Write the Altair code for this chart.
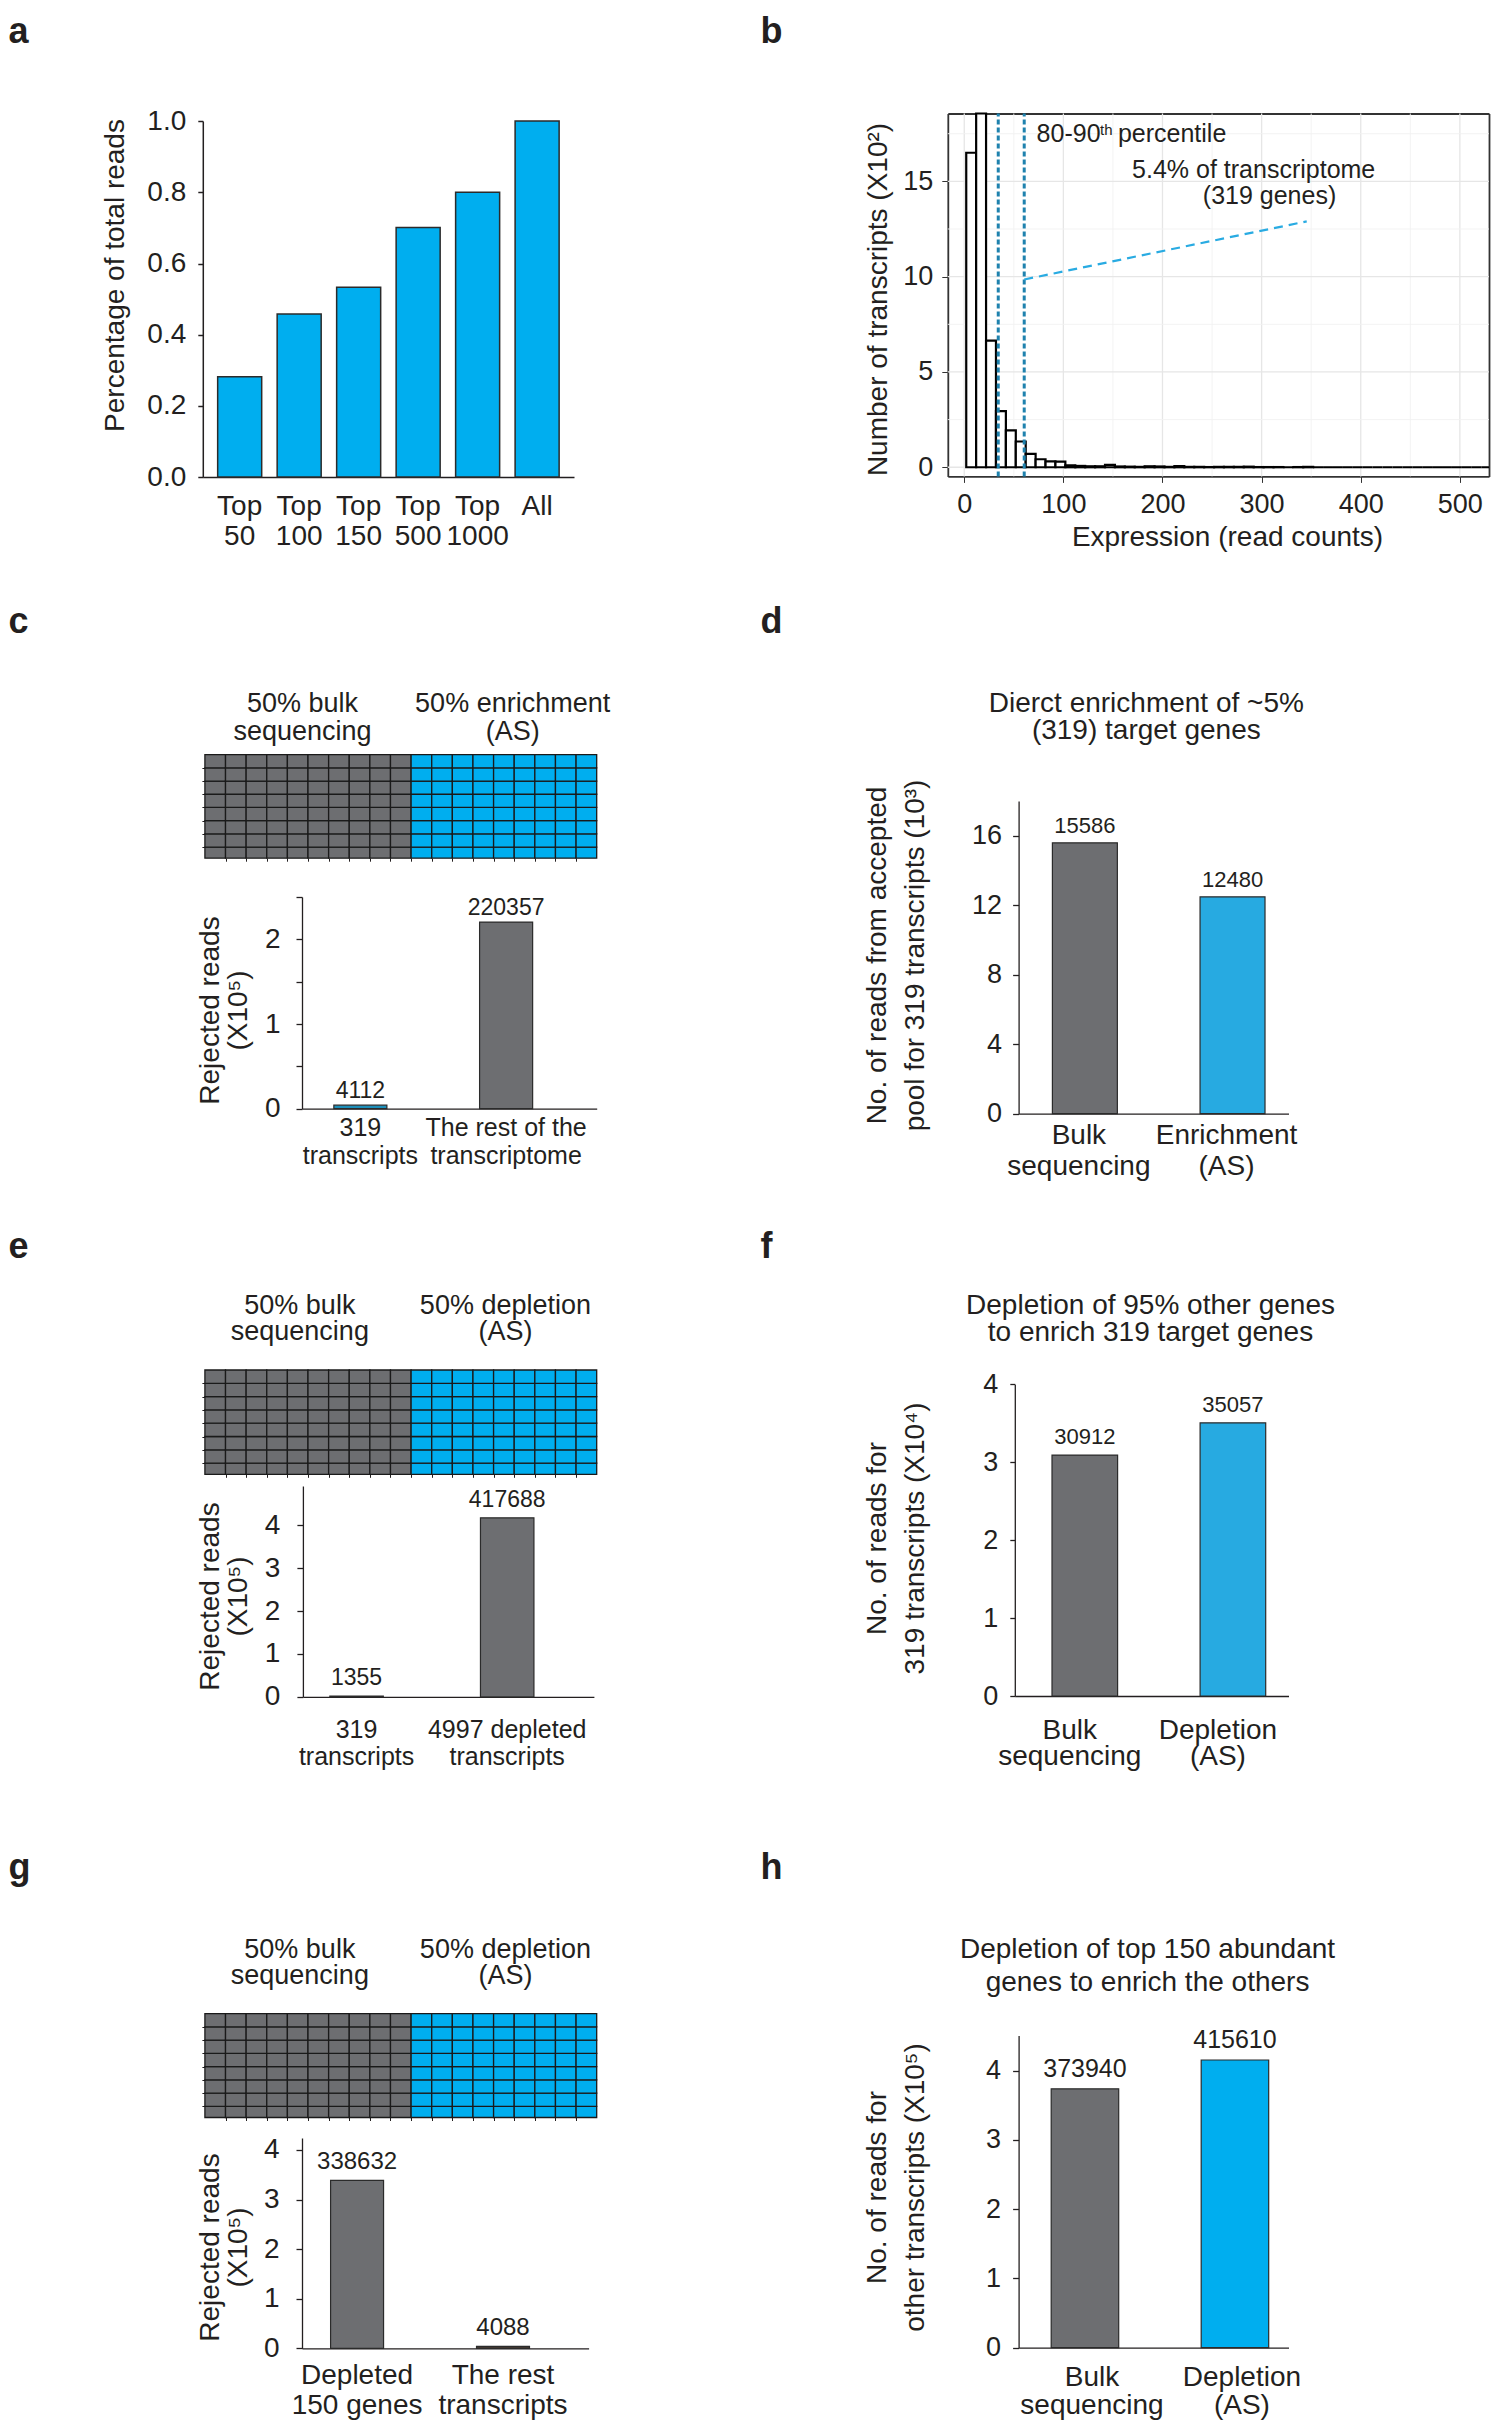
import altair as alt
import pandas as pd

W, H, M = 1484, 2416, 8
FONT = "Liberation Sans"
INK = "#231F20"
FRAME = "#333333"
GRAY = "#6D6E71"
BLUE = "#00AEEF"
BLUE_D = "#27AAE1"
TEAL = "#1B8FBA"
BROWN = "#4A3C33"
EDGE = "#2B2B2B"
CELL_EDGE = "#1A1A1A"
PCT_LINE = "#1F82AE"
POINTER = "#29ABE2"

# ---------------- data ----------------
a_groups = ["Top 50", "Top 100", "Top 150", "Top 500", "Top 1000", "All"]
a_share = [0.282, 0.458, 0.533, 0.701, 0.800, 1.000]

# histogram of expression (x10^2 transcripts per bin of 10 read counts)
b_counts = [16.5, 30.0, 6.64, 2.94, 1.93, 1.35, 0.70, 0.42, 0.31, 0.30,
            0.10, 0.07, 0.05, 0.05, 0.12, 0.04, 0.03, 0.02, 0.05, 0.04,
            0.02, 0.06, 0.02, 0.02, 0.01, 0.02, 0.02, 0.02, 0.03, 0.01,
            0.01, 0.01, 0.0, 0.01, 0.02, 0.0, 0.0, 0.0, 0.0, 0.0,
            0.0, 0.0, 0.0, 0.0, 0.0, 0.0, 0.0, 0.0, 0.0, 0.0,
            0.0, 0.0, 0.0]
b_first_bin = 2
b_bin_width = 10
b_percentiles = [34.3, 60.5]
b_pointer = {"x": [60.5], "y": [9.85], "x2": [345.5], "y2": [12.9]}
b_notes_left = ["80-90", "th", "percentile"]
b_notes_left_x = [73, 137, 155]
b_notes_left_y = [17.08, 17.45, 17.08]
b_notes_left_fs = [25, 15, 25]
b_notes_center = ["5.4% of transcriptome", "(319 genes)"]
b_notes_center_x = [292, 308]
b_notes_center_y = [15.18, 13.83]

waffle_cols = [10, 9]
waffle_rows = 8
waffle_colors = [GRAY, BLUE]

c_titles = [["50% bulk", "sequencing"], ["50% enrichment", "(AS)"]]
c_cats = ["319|transcripts", "The rest of the|transcriptome"]
c_reads = [4112, 220357]

d_title = ["Dierct enrichment of ~5%", "(319) target genes"]
d_cats = ["Bulk|sequencing", "Enrichment|(AS)"]
d_reads = [15586, 12480]

e_titles = [["50% bulk", "sequencing"], ["50% depletion", "(AS)"]]
e_cats = ["319|transcripts", "4997 depleted|transcripts"]
e_reads = [1355, 417688]

f_title = ["Depletion of 95% other genes", "to enrich 319 target genes"]
f_cats = ["Bulk|sequencing", "Depletion|(AS)"]
f_reads = [30912, 35057]

g_titles = [["50% bulk", "sequencing"], ["50% depletion", "(AS)"]]
g_cats = ["Depleted|150 genes", "The rest|transcripts"]
g_reads = [338632, 4088]

h_title = ["Depletion of top 150 abundant", "genes to enrich the others"]
h_cats = ["Bulk|sequencing", "Depletion|(AS)"]
h_reads = [373940, 415610]


# ---------------- helpers ----------------
def P(v):
    return v - M


def ax(**kw):
    base = dict(labelFont=FONT, titleFont=FONT, labelColor=INK, titleColor=INK,
                domainColor=INK, tickColor=INK, titleFontWeight="normal",
                labelFlush=False, labelOverlap=False, labelLimit=0, grid=False,
                titleLimit=2000)
    base.update(kw)
    return alt.Axis(**base)


def left_axis(x_page, **kw):
    return ax(orient="left", offset=-(x_page - M), **kw)


def bottom_axis(y_page, **kw):
    return ax(orient="bottom", offset=(y_page - M) - H, **kw)


def top_axis(y_page, **kw):
    return ax(orient="top", offset=-(y_page - M), **kw)


def right_axis(x_page, **kw):
    return ax(orient="right", offset=(x_page - M) - W, **kw)


def host(df, field, scale, title, x_page, y_page, size, bold=False, align="center", lh=None):
    kw = dict(domain=False, ticks=False, tickSize=0, labels=False, title=title,
              titleX=P(x_page), titleY=P(y_page), titleFontSize=size,
              titleFontWeight="bold" if bold else "normal", titleAlign=align,
              titleBaseline="alphabetic", titleAngle=0)
    if lh:
        kw["titleLineHeight"] = lh
    return alt.Chart(df).mark_text(opacity=0).encode(
        x=alt.X(field, scale=scale, axis=top_axis(M, **kw)))


def js_lines(lines):
    return "[" + ", ".join("'" + s + "'" for s in lines) + "]"


LETTER_FS = 36
LETTER_TOP_ROW = 42

# ---------------- panel a ----------------
a_df = pd.DataFrame({"group": a_groups, "share": a_share, "base": 0.0})
a_xs = alt.Scale(domain=a_groups, range=[P(202.8), P(574)], paddingInner=0.26, paddingOuter=0.25)
a_ys = alt.Scale(domain=[0, 1], range=[P(477.1), P(121.1)], nice=False, zero=False)
a_bars = alt.Chart(a_df).mark_bar(fill=BLUE, stroke=EDGE, strokeWidth=1.5).encode(
    x=alt.X("group:N", scale=a_xs,
            axis=bottom_axis(477.1, ticks=False, tickSize=0, labelPadding=15, labelFontSize=28,
                             labelLineHeight=30, labelAngle=0, labelExpr="split(datum.label, ' ')",
                             domainWidth=1.5, title=None)),
    y=alt.Y("share:Q", scale=a_ys,
            axis=left_axis(202.8, values=[0, 0.2, 0.4, 0.6, 0.8, 1.0], format=".1f", tickSize=5,
                           tickWidth=1.5, domainWidth=1.5, labelPadding=12, labelFontSize=28,
                           title="Percentage of total reads", titleFontSize=28, titleAngle=270,
                           titleAlign="center", titleBaseline="alphabetic",
                           titleX=123 - 202.8, titleY=P(275))),
    y2="base",
)
panel_a = alt.layer(
    a_bars, host(a_df, "group:N", a_xs, "a", M, LETTER_TOP_ROW, LETTER_FS, bold=True, align="left")
).resolve_axis(x="independent", y="independent")

# ---------------- panel b ----------------
b_xlo, b_xhi = -16.6, 529.4
b_ylo, b_yhi = -0.48, 18.56
b_lo = [b_first_bin + b_bin_width * i for i in range(len(b_counts))]
b_df = pd.DataFrame({"lo": b_lo, "hi": [v + b_bin_width for v in b_lo], "n": b_counts, "zero": 0.0})
b_xs = alt.Scale(domain=[b_xlo, b_xhi], range=[P(947.8), P(1489)], nice=False, zero=False, clamp=True)
b_ys = alt.Scale(domain=[b_ylo, b_yhi], range=[P(476.4), P(113.5)], nice=False, zero=False, clamp=True)

vg = [0, 50, 100, 150, 200, 250, 300, 350, 400, 450, 500]
hg = [0, 2.5, 5, 7.5, 10, 12.5, 15, 17.5]
b_vgrid = pd.DataFrame({"g": vg, "y0": b_ylo, "y1": b_yhi,
                        "c": ["#E6E6E6" if v % 100 == 0 else "#F2F2F2" for v in vg],
                        "w": [1.3 if v % 100 == 0 else 0.9 for v in vg]})
b_hgrid = pd.DataFrame({"g": hg, "x0": b_xlo, "x1": b_xhi,
                        "c": ["#E6E6E6" if v % 5 == 0 else "#F2F2F2" for v in hg],
                        "w": [1.3 if v % 5 == 0 else 0.9 for v in hg]})
frame_kw = dict(ticks=False, tickSize=0, labels=False, domainColor=FRAME, domainWidth=1.8, title=None)
b_vlayer = alt.Chart(b_vgrid).mark_rule().encode(
    x=alt.X("g:Q", scale=b_xs, axis=top_axis(113.5, **frame_kw)),
    y=alt.Y("y0:Q", scale=b_ys, axis=None), y2="y1",
    color=alt.Color("c:N", scale=None), strokeWidth=alt.StrokeWidth("w:Q", scale=None))
b_hlayer = alt.Chart(b_hgrid).mark_rule().encode(
    y=alt.Y("g:Q", scale=b_ys, axis=right_axis(1489, **frame_kw)),
    x=alt.X("x0:Q", scale=b_xs, axis=None), x2="x1",
    color=alt.Color("c:N", scale=None), strokeWidth=alt.StrokeWidth("w:Q", scale=None))
b_bars = alt.Chart(b_df).mark_rect(fill="white", stroke="black", strokeWidth=2.2).encode(
    x=alt.X("lo:Q", scale=b_xs,
            axis=bottom_axis(476.4, values=[0, 100, 200, 300, 400, 500], tickSize=6, tickColor=FRAME,
                             domainColor=FRAME, domainWidth=1.8, labelPadding=9, labelFontSize=27,
                             title="Expression (read counts)", titleFontSize=28,
                             titleX=P(1227), titleY=545 - 476.4, titleAlign="center",
                             titleBaseline="alphabetic")),
    x2="hi",
    y=alt.Y("n:Q", scale=b_ys,
            axis=left_axis(947.8, values=[0, 5, 10, 15], tickSize=6, tickColor=FRAME,
                           domainColor=FRAME, domainWidth=1.8, labelPadding=9, labelFontSize=27,
                           title="Number of transcripts (X10²)", titleFontSize=28, titleAngle=270,
                           titleAlign="center", titleBaseline="alphabetic",
                           titleX=886.5 - 947.8, titleY=P(299))),
    y2="zero")
b_pct = alt.Chart(pd.DataFrame({"x": b_percentiles, "y0": b_ylo, "y1": b_yhi})).mark_rule(
    color=PCT_LINE, strokeDash=[5, 3], strokeWidth=3).encode(
    x=alt.X("x:Q", scale=b_xs, axis=None), y=alt.Y("y0:Q", scale=b_ys, axis=None), y2="y1")
b_ptr = alt.Chart(pd.DataFrame(b_pointer)).mark_rule(
    color=POINTER, strokeDash=[9, 6], strokeWidth=2.2).encode(
    x=alt.X("x:Q", scale=b_xs, axis=None), y=alt.Y("y:Q", scale=b_ys, axis=None), x2="x2", y2="y2")
b_txt_l = alt.Chart(pd.DataFrame({"t": b_notes_left, "x": b_notes_left_x, "y": b_notes_left_y,
                                  "fs": b_notes_left_fs})).mark_text(
    align="left", baseline="alphabetic", font=FONT, color=INK).encode(
    x=alt.X("x:Q", scale=b_xs, axis=None), y=alt.Y("y:Q", scale=b_ys, axis=None),
    text="t:N", size=alt.Size("fs:Q", scale=None))
b_txt_c = alt.Chart(pd.DataFrame({"t": b_notes_center, "x": b_notes_center_x,
                                  "y": b_notes_center_y})).mark_text(
    align="center", baseline="alphabetic", font=FONT, color=INK, fontSize=25).encode(
    x=alt.X("x:Q", scale=b_xs, axis=None), y=alt.Y("y:Q", scale=b_ys, axis=None), text="t:N")
panel_b = alt.layer(
    b_vlayer, b_hlayer, b_bars, b_pct, b_ptr, b_txt_l, b_txt_c,
    host(b_df, "lo:Q", b_xs, "b", 760, LETTER_TOP_ROW, LETTER_FS, bold=True, align="left")
).resolve_axis(x="independent", y="independent")


# ---------------- waffle panels ----------------
def waffle_panel(top, bottom, titles, title_vals, title_pad, title_lh, letter, letter_y):
    rows = []
    col = 0
    for gi, ncol in enumerate(waffle_cols):
        for _ in range(ncol):
            for r in range(waffle_rows):
                rows.append({"c0": col, "c1": col + 1, "r0": r, "r1": r + 1, "fill": waffle_colors[gi]})
            col += 1
    df = pd.DataFrame(rows)
    ncols = sum(waffle_cols)
    xs = alt.Scale(domain=[0, ncols], range=[P(204.9), P(596.7)], nice=False, zero=False)
    ys = alt.Scale(domain=[0.16, waffle_rows], range=[P(bottom), P(top)], nice=False, zero=False, clamp=True)
    expr = "datum.value < %g ? %s : %s" % (ncols / 2, js_lines(titles[0]), js_lines(titles[1]))
    cells = alt.Chart(df).mark_rect(stroke=CELL_EDGE, strokeWidth=1.3).encode(
        x=alt.X("c0:Q", scale=xs,
                axis=top_axis(top, values=title_vals, ticks=False, tickSize=0, domain=False,
                              labelExpr=expr, labelFontSize=27, labelLineHeight=title_lh,
                              labelPadding=title_pad, labelBaseline="alphabetic",
                              labelAlign="center", title=None)),
        x2="c1",
        y=alt.Y("r0:Q", scale=ys,
                axis=left_axis(204.9, values=list(range(1, waffle_rows)), tickSize=3, labels=False,
                               domain=False, title=None)),
        y2="r1",
        color=alt.Color("fill:N", scale=None))
    tick_host = alt.Chart(df).mark_rect(opacity=0).encode(
        x=alt.X("c0:Q", scale=xs,
                axis=bottom_axis(bottom, values=list(range(1, ncols)), tickSize=3, labels=False,
                                 domain=False, title=None)),
        x2="c1", y=alt.Y("r0:Q", scale=ys, axis=None), y2="r1")
    let = host(df, "c0:Q", xs, letter, M, letter_y, LETTER_FS, bold=True, align="left")
    return alt.layer(cells, tick_host, let).resolve_axis(x="independent", y="independent")


# ---------------- bar panels ----------------
def bar_panel(cats, reads, unit, colors, x0, x1, pi, po, align, y_zero, y_top, ymax,
              yvals, ytick, ypad, yfs, ytitle, ytitle_lh, ytitle_base_x, ytitle_mid_y,
              xpad, xfs, xlh, xoff, vfs, vdy, ylabel_expr=None, yformat=None, extra=None):
    df = pd.DataFrame({"cat": cats, "v": [r / unit for r in reads], "t": [str(r) for r in reads],
                       "col": colors, "base": 0.0})
    xs = alt.Scale(domain=cats, range=[P(x0), P(x1)], paddingInner=pi, paddingOuter=po, align=align)
    ys = alt.Scale(domain=[0, ymax], range=[P(y_zero), P(y_top)], nice=False, zero=False)
    ykw = dict(values=yvals, tickSize=ytick, labelPadding=ypad, labelFontSize=yfs, title=ytitle,
               titleFontSize=28, titleLineHeight=ytitle_lh, titleAngle=270, titleAlign="center",
               titleBaseline="alphabetic", titleX=ytitle_base_x - x0, titleY=P(ytitle_mid_y),
               domainWidth=1.3, tickWidth=1.3)
    if ylabel_expr:
        ykw["labelExpr"] = ylabel_expr
    if yformat:
        ykw["format"] = yformat
    bars = alt.Chart(df).mark_bar(stroke=EDGE, strokeWidth=1.2).encode(
        x=alt.X("cat:N", scale=xs,
                axis=bottom_axis(y_zero, ticks=False, tickSize=0, labelPadding=xpad, labelFontSize=xfs,
                                 labelLineHeight=xlh, labelOffset=xoff, labelAngle=0,
                                 labelExpr="split(datum.label, '|')", title=None, domainWidth=1.3)),
        y=alt.Y("v:Q", scale=ys, axis=left_axis(x0, **ykw)),
        y2="base",
        color=alt.Color("col:N", scale=None))
    vals = alt.Chart(df).mark_text(baseline="alphabetic", dy=vdy, fontSize=vfs, font=FONT,
                                   color=INK).encode(
        x=alt.X("cat:N", scale=xs, axis=None), y=alt.Y("v:Q", scale=ys, axis=None), text="t:N")
    layers = [bars, vals]
    if extra:
        for (title, xp, yp, size, bold, alg, lh) in extra:
            layers.append(host(df, "cat:N", xs, title, xp, yp, size, bold=bold, align=alg, lh=lh))
    return alt.layer(*layers).resolve_axis(x="independent", y="independent")


rej_title = ["Rejected reads", "(X10⁵)"]

panel_c_w = waffle_panel(754.6, 858.2, c_titles, [4.71, 14.9], 43.6, 28, "c", 632)
panel_c_b = bar_panel(c_cats, c_reads, 1e5, [TEAL, GRAY], 302, 596.7, 0.636, 0.329, 0.332,
                      1108.7, 897, 2.5, [0, 0.5, 1, 1.5, 2, 2.5], 6, 16, 28, rej_title, 28, 218, 1010,
                      7, 25, 27.5, 0, 23, -7,
                      ylabel_expr="datum.value % 1 == 0 ? datum.label : ''", yformat=".0f")

panel_d = bar_panel(d_cats, d_reads, 1e3, [GRAY, BLUE_D], 1018.6, 1288.5, 0.56, 0.194, 0.59,
                    1113.6, 800.9, 18, [0, 4, 8, 12, 16], 6, 11, 27,
                    ["No. of reads from accepted", "pool for 319 transcripts (10³)"], 38, 885, 955,
                    8, 28, 30.6, -6, 22, -10,
                    extra=[(d_title, 1145.8, 711.7, 28, False, "center", 27),
                           ("d", 760, 632, LETTER_FS, True, "left", None)])

panel_e_w = waffle_panel(1370, 1474.3, e_titles, [4.58, 14.55], 56.4, 26, "e", 1257)
panel_e_b = bar_panel(e_cats, e_reads, 1e5, [GRAY, GRAY], 302.9, 593.9, 0.645, 0.2885, 0.31,
                      1696.8, 1486, 4.92, [0, 1, 2, 3, 4], 6, 17, 28, rej_title, 28, 218, 1596,
                      21, 25, 26.7, 0, 23, -11)

panel_f = bar_panel(f_cats, f_reads, 1e4, [GRAY, BLUE_D], 1014.8, 1288.5, 0.557, 0.2026, 0.62,
                    1696, 1384.3, 4, [0, 1, 2, 3, 4], 5, 12, 27,
                    ["No. of reads for", "319 transcripts (X10⁴)"], 38, 885, 1538,
                    20, 28, 26.7, -15, 22, -11,
                    extra=[(f_title, 1150, 1313.6, 28, False, "center", 27),
                           ("f", 760, 1257, LETTER_FS, True, "left", None)])

panel_g_w = waffle_panel(2013.6, 2117.5, g_titles, [4.58, 14.55], 56.3, 26, "g", 1878)
panel_g_b = bar_panel(g_cats, g_reads, 1e5, [GRAY, BROWN], 302, 588.6, 0.637, 0.3005, 0.326,
                      2348.4, 2138, 4.24, [0, 1, 2, 3, 4], 6, 17, 28, rej_title, 28, 218, 2247,
                      13.5, 28, 30, 0, 24, -11)

panel_h = bar_panel(h_cats, h_reads, 1e5, [GRAY, BLUE], 1018.6, 1288.5, 0.55, 0.1747, 0.622,
                    2347.6, 2035.5, 4.51, [0, 1, 2, 3, 4], 6, 12, 27,
                    ["No. of reads for", "other transcripts (X10⁵)"], 38, 885, 2187,
                    16, 28, 28, 7, 25, -12,
                    extra=[(h_title, 1147, 1957.3, 28, False, "center", 33),
                           ("h", 760, 1878, LETTER_FS, True, "left", None)])

chart = alt.layer(
    panel_a, panel_b, panel_c_w, panel_c_b, panel_d, panel_e_w, panel_e_b,
    panel_f, panel_g_w, panel_g_b, panel_h
).resolve_scale(x="independent", y="independent").resolve_axis(
    x="independent", y="independent"
).properties(
    width=W, height=H, autosize=alt.AutoSizeParams(type="none"), padding=0, background="white"
).configure_view(strokeWidth=0).configure_text(font=FONT)

chart.save("out.html", embed_options={"renderer": "svg", "actions": False})
